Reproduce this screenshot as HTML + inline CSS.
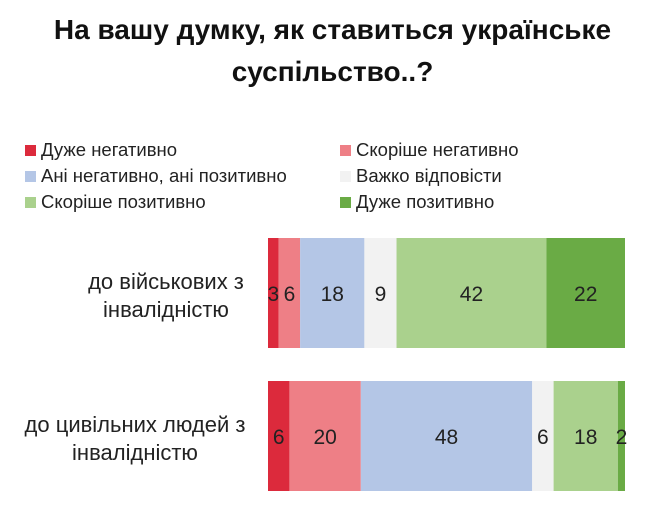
<!DOCTYPE html>
<html><head><meta charset="utf-8">
<style>
body{margin:0;background:#fff;width:665px;height:521px;overflow:hidden;font-family:"Liberation Sans","DejaVu Sans",sans-serif;}
#title{position:absolute;left:0;width:665px;top:9px;text-align:center;font-weight:bold;font-size:28px;line-height:42px;color:#111;}
.leg{position:absolute;font-size:18.5px;color:#222;display:flex;align-items:center;white-space:nowrap;}
.leg span.sw{display:inline-block;width:11px;height:11px;margin-right:5px;}
</style></head><body>
<div id="title">На вашу думку, як ставиться українське<br>суспільство..?</div>
<div id="legend"></div>
<svg id="chart" width="665" height="521" style="position:absolute;left:0;top:0"></svg>
<script>
const categories=["до військових з\nінвалідністю","до цивільних людей з\nінвалідністю"];
const seriesNames=["Дуже негативно","Скоріше негативно","Ані негативно, ані позитивно","Важко відповісти","Скоріше позитивно","Дуже позитивно"];
const seriesValues=[[3,6,18,9,42,22],[6,20,48,6,18,2]];
const colors=["#dc2a3c","#ee7f86","#b4c6e6","#f2f2f2","#aad18d","#6aab45"];
const x0=268,x1=625,bandTop=[238,381],bandH=110,labelCx=[166,135];
const xs=v=>x0+(x1-x0)*v/100;
const svg=document.getElementById('chart');const NS="http://www.w3.org/2000/svg";
categories.forEach((c,i)=>{
  let acc=0;
  seriesValues[i].forEach((v,j)=>{
    const r=document.createElementNS(NS,'rect');
    r.setAttribute('x',xs(acc));r.setAttribute('y',bandTop[i]);
    r.setAttribute('width',xs(acc+v)-xs(acc));r.setAttribute('height',bandH);
    r.setAttribute('fill',colors[j]);
    
    
    svg.appendChild(r);
    const t=document.createElementNS(NS,'text');
    t.setAttribute('x',xs(acc+v/2));t.setAttribute('y',bandTop[i]+bandH/2+8);
    t.setAttribute('text-anchor','middle');t.setAttribute('font-size','21');t.setAttribute('fill','#222');
    t.textContent=v;
    
    
    svg.appendChild(t);
    acc+=v;
  });
  const lines=c.split("\n");
  lines.forEach((l,k)=>{
    const t=document.createElementNS(NS,'text');
    t.setAttribute('x',labelCx[i]);t.setAttribute('y',bandTop[i]+bandH/2-4+k*28);
    t.setAttribute('text-anchor','middle');t.setAttribute('font-size','22');t.setAttribute('fill','#222');
    t.textContent=l;
    
    
    svg.appendChild(t);
  });
});
const leg=document.getElementById('legend');
seriesNames.forEach((n,j)=>{
  const d=document.createElement('div');d.className='leg';
  d.style.left=(j%2?340:25)+'px';d.style.top=(139+Math.floor(j/2)*26)+'px';
  d.innerHTML='<span class="sw" style="background:'+colors[j]+'"></span>'+n;
  
  
  leg.appendChild(d);
});
</script>
</body></html>
